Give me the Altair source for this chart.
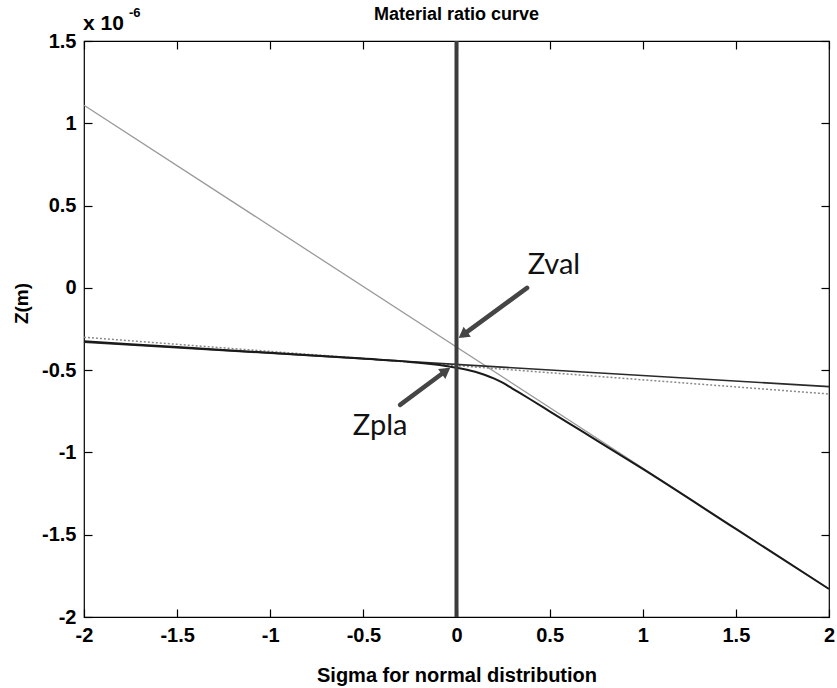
import math
import altair as alt
import pandas as pd

# ---- data (Z in units of 1e-6 m) ----
# measured material ratio curve
sigma_curve = [-2.0, -1.5, -1.0, -0.5, -0.25, 0.0, 0.1, 0.15, 0.2, 0.25, 0.3, 0.4, 0.5,
               0.6, 0.75, 1.0, 1.5, 2.0]
z_curve = [-0.325, -0.36, -0.395, -0.43, -0.45, -0.485, -0.51, -0.528, -0.55, -0.578,
           -0.612, -0.68, -0.75, -0.82, -0.925, -1.10, -1.465, -1.83]

# fitted straight lines
sigma_fit = [-2.0, 2.0]
z_plateau = [-0.33, -0.60]
z_plateau_dotted = [-0.30, -0.645]
z_valley = [1.11, -1.83]

# axis ticks
x_ticks = [-2.0, -1.5, -1.0, -0.5, 0.0, 0.5, 1.0, 1.5, 2.0]
y_ticks = [-2.0, -1.5, -1.0, -0.5, 0.0, 0.5, 1.0, 1.5]

# callouts
callout_text = ["Zval", "Zpla"]
callout_x = [0.523, -0.41]
callout_y = [0.136, -0.839]
arrow_tail_x = [0.379, -0.303]
arrow_tail_y = [0.0, -0.711]
arrow_tip_x = [0.013, -0.035]
arrow_tip_y = [-0.304, -0.486]

# ---- layout ----
W, H = 745, 576
X_DOM = [-2.0, 2.0]
Y_DOM = [-2.0, 1.5]
KX = W / (X_DOM[1] - X_DOM[0])
KY = H / (Y_DOM[1] - Y_DOM[0])
TICK = 8  # tick length, ticks drawn inside the box
AX_FONT = "Liberation Sans"
NOTE_FONT = "Lato"

xscale = alt.Scale(domain=X_DOM, nice=False, zero=False)
yscale = alt.Scale(domain=Y_DOM, nice=False, zero=False)

# axes are shifted into the plot by the tick length so the ticks point inward
common = dict(domain=False, grid=False, ticks=True, tickSize=TICK, tickWidth=1.2,
              tickColor="black", offset=-TICK)

xaxis_bottom = alt.Axis(
    orient="bottom", values=x_ticks, **common,
    labelExpr="datum.value + ''", labelFont=AX_FONT, labelFontSize=20,
    labelFontWeight="bold", labelColor="black", labelPadding=8, labelFlush=False,
    title="Sigma for normal distribution", titleFont=AX_FONT, titleFontSize=20,
    titleFontWeight="bold", titleColor="black", titleBaseline="alphabetic",
    titleX=W / 2, titleY=64 + TICK, titleAnchor="middle",
)
yaxis_left = alt.Axis(
    orient="left", values=y_ticks, **common,
    labelExpr="datum.value + ''", labelFont=AX_FONT, labelFontSize=20,
    labelFontWeight="bold", labelColor="black", labelPadding=8, labelFlush=False,
    title="Z(m)", titleFont=AX_FONT, titleFontSize=19, titleFontWeight="bold",
    titleColor="black", titleBaseline="alphabetic", titleAngle=270,
    titleX=-57 - TICK, titleY=262, titleAlign="center",
)
xaxis_top = alt.Axis(orient="top", values=x_ticks, labels=False, title=None, **common)
yaxis_right = alt.Axis(orient="right", values=y_ticks, labels=False, title=None, **common)


def X(field, axis=None):
    return alt.X(field, type="quantitative", scale=xscale, axis=axis)


def Y(field, axis=None):
    return alt.Y(field, type="quantitative", scale=yscale, axis=axis)


curve_df = pd.DataFrame({"sigma": sigma_curve, "z": z_curve})
plateau_df = pd.DataFrame({"sigma": sigma_fit, "z": z_plateau})
dotted_df = pd.DataFrame({"sigma": sigma_fit, "z": z_plateau_dotted})
valley_df = pd.DataFrame({"sigma": sigma_fit, "z": z_valley})

# arrows: shaft + rotated triangular head
HEAD_BACK = 5
arrow_rows = []
for x0, y0, x1, y1 in zip(arrow_tail_x, arrow_tail_y, arrow_tip_x, arrow_tip_y):
    dx = (x1 - x0) * KX
    dy = -(y1 - y0) * KY
    L = math.hypot(dx, dy)
    ux, uy = dx / L, dy / L
    hx = x1 - ux * HEAD_BACK / KX
    hy = y1 + uy * HEAD_BACK / KY
    ang = math.degrees(math.atan2(dx, -dy)) % 360
    arrow_rows.append({"sigma": x0, "z": y0, "sigma2": hx, "z2": hy, "angle": ang})
arrow_df = pd.DataFrame(arrow_rows)

callout_df = pd.DataFrame({"sigma": callout_x, "z": callout_y, "label": callout_text})

zero_df = pd.DataFrame({"sigma": [0.0]})
corner_df = pd.DataFrame({"sigma": [X_DOM[0]], "z": [Y_DOM[1]]})
title_df = pd.DataFrame({"sigma": [0.0], "z": [Y_DOM[1]]})

valley = alt.Chart(valley_df).mark_line(color="#9a9a9a", strokeWidth=1.3).encode(
    x=X("sigma", xaxis_top), y=Y("z", yaxis_right))
dotted = alt.Chart(dotted_df).mark_line(
    color="#8a8a8a", strokeWidth=1.5, strokeDash=[2, 2]).encode(x=X("sigma"), y=Y("z"))
plateau = alt.Chart(plateau_df).mark_line(color="#2a2a2a", strokeWidth=1.6).encode(
    x=X("sigma"), y=Y("z"))
curve = alt.Chart(curve_df).mark_line(
    color="#1a1a1a", strokeWidth=2.0, interpolate="monotone").encode(
    x=X("sigma", xaxis_bottom), y=Y("z", yaxis_left))

zero_line = alt.Chart(zero_df).mark_rule(color="#3c3c3c", strokeWidth=4).encode(
    x=X("sigma"))

shafts = alt.Chart(arrow_df).mark_rule(
    color="#454545", strokeWidth=4.5, strokeCap="round").encode(
    x=X("sigma"), y=Y("z"), x2="sigma2", y2="z2")
heads = alt.Chart(arrow_df).mark_point(
    shape="triangle-up", filled=True, color="#454545", size=150, opacity=1).encode(
    x=X("sigma2"), y=Y("z2"), angle=alt.Angle("angle:Q", scale=None))

callouts = alt.Chart(callout_df).mark_text(
    font=NOTE_FONT, fontSize=29, color="#111111", align="center",
    baseline="middle").encode(x=X("sigma"), y=Y("z"), text="label:N")

exp_base = alt.Chart(corner_df).mark_text(
    text="x 10", font=AX_FONT, fontSize=21, fontWeight="bold", color="black",
    align="left", baseline="alphabetic", dx=-1, dy=-11).encode(x=X("sigma"), y=Y("z"))
exp_pow = alt.Chart(corner_df).mark_text(
    text="-6", font=AX_FONT, fontSize=13, fontWeight="bold", color="black",
    align="left", baseline="alphabetic", dx=45, dy=-24).encode(x=X("sigma"), y=Y("z"))

title = alt.Chart(title_df).mark_text(
    text="Material ratio curve", font=AX_FONT, fontSize=18, fontWeight="bold",
    color="black", align="center", baseline="alphabetic", dy=-21).encode(
    x=X("sigma"), y=Y("z"))

chart = alt.layer(
    valley, dotted, plateau, curve, zero_line, shafts, heads,
    callouts, exp_base, exp_pow, title,
).resolve_axis(
    x="independent", y="independent"
).resolve_scale(
    x="shared", y="shared"
).properties(
    width=W, height=H,
    padding={"left": 84, "top": 41, "right": 8, "bottom": 71},
    autosize=alt.AutoSizeParams(type="none"),
    background="white",
).configure_view(
    stroke="black", strokeWidth=1.2,
)

chart.save("out.html", embed_options={"renderer": "svg", "actions": False})
